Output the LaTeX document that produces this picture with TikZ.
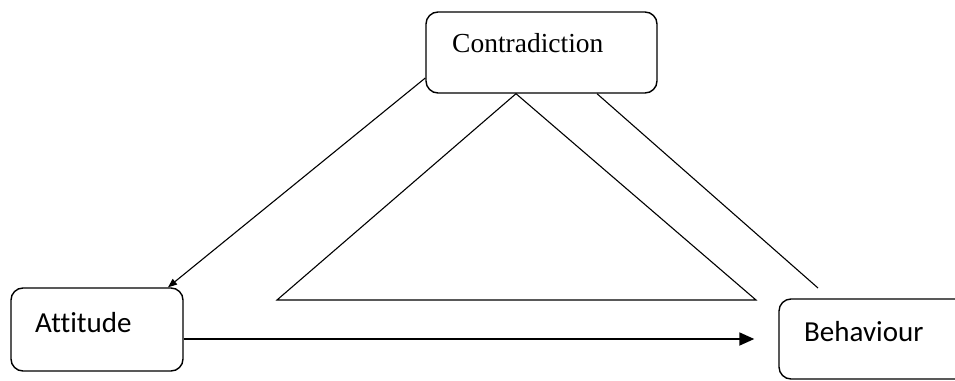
\documentclass[tikz,border=0pt]{standalone}
\usepackage{fontspec}
\setmainfont{Liberation Serif}
\newfontfamily\calib[Ligatures={NoCommon}]{Carlito}
\usetikzlibrary{arrows.meta}
\begin{document}
\begin{tikzpicture}[x=1pt,y=-1pt,
  box/.style={draw,line width=1.4pt,rounded corners=12pt,inner sep=0pt},
  conn/.style={line width=1.1pt},
  lbl/.style={inner sep=0pt,anchor=base west}]
\useasboundingbox (0,0) rectangle (955,380);
\clip (0,0) rectangle (955,380);
\node[box,minimum width=231pt,minimum height=81pt] (con) at (541.5,52.5) {};
\node[box,minimum width=172pt,minimum height=83pt] (att) at (97,329.5) {};
\node[box,minimum width=210pt,minimum height=80pt] (beh) at (884,339) {};
\node[lbl,font=\fontsize{27.5}{30}\selectfont] (tcon) at (452,52) {Contradiction};
\node[lbl,font=\calib\fontsize{29}{32}\selectfont] (tatt) at (35,332) {Attitude};
\node[lbl,font=\calib\fontsize{29}{32}\selectfont] (tbeh) at (804,341) {Behaviour};
\coordinate (apex) at ([xshift=-25.5pt]con.south);
\coordinate (tl) at (277,300);
\coordinate (tr) at (756,300);
\draw[conn,line join=miter] (apex) -- (tl) -- (tr) -- cycle;
\draw[conn,-{Triangle[length=9pt,width=7pt]}] ([yshift=-25.5pt]con.west) -- ([xshift=71pt]att.north);
\coordinate (rend) at (818,288);
\draw[conn] ([xshift=55.5pt]con.south) -- (rend);
\draw[line width=1.8pt,-{Triangle[length=15pt,width=13pt]}] (att.east |- beh.west) -- ([xshift=-24pt]beh.west);
\end{tikzpicture}
\end{document}
